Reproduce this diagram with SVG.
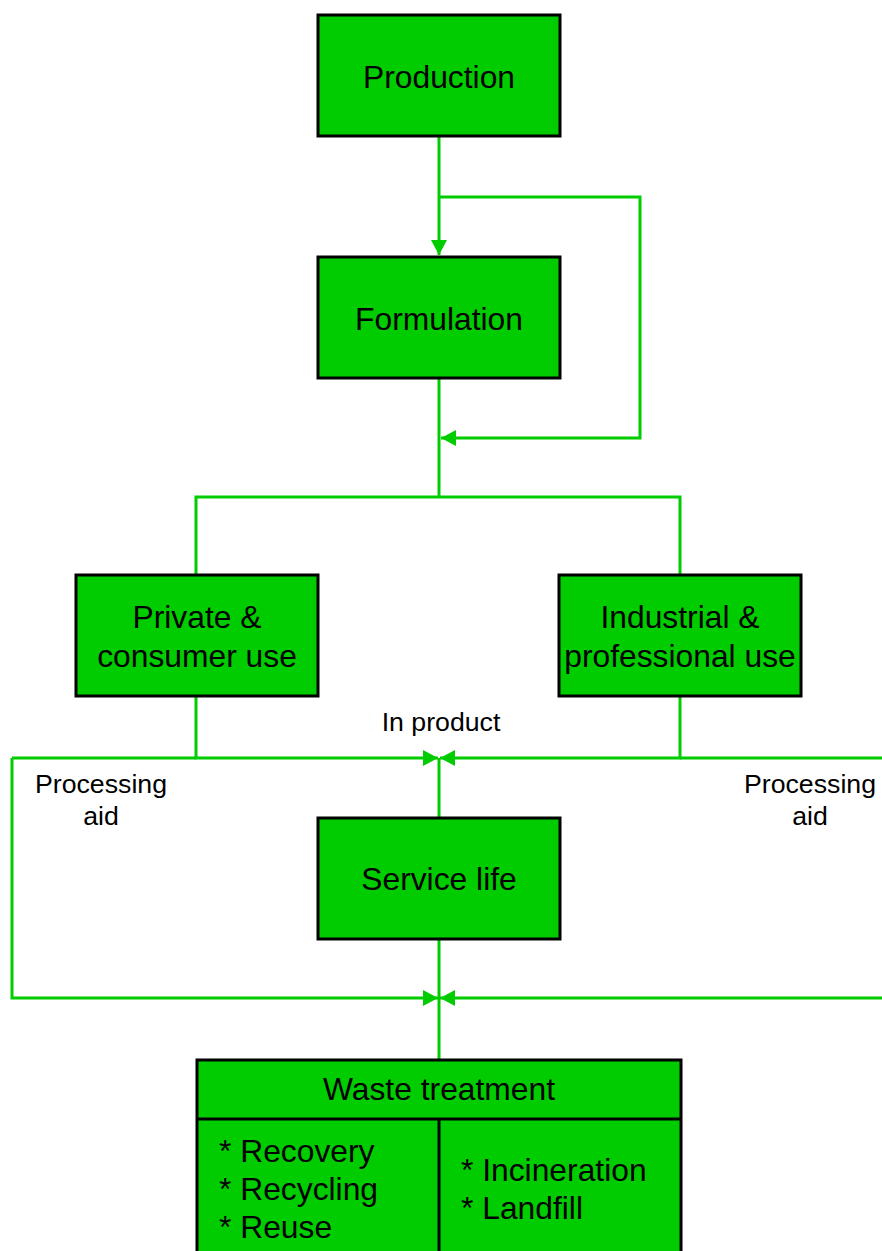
<svg xmlns="http://www.w3.org/2000/svg" width="882" height="1251" viewBox="0 0 882 1251">
<style>
.box{fill:#00CC00;stroke:#000;stroke-width:3}
.div{stroke:#000;stroke-width:3;fill:none}
.con{fill:none;stroke:#00CC00;stroke-width:3}
.t{font-family:"Liberation Sans",Arial,sans-serif;font-size:31.8px;fill:#000;text-anchor:middle}
.tl{font-family:"Liberation Sans",Arial,sans-serif;font-size:31.8px;fill:#000}
.s{font-family:"Liberation Sans",Arial,sans-serif;font-size:26.7px;fill:#000;text-anchor:middle}
</style>
<defs>
<marker id="ah" markerUnits="userSpaceOnUse" viewBox="0 0 15 16" refX="15" refY="8" markerWidth="15" markerHeight="16" orient="auto">
<path d="M0,0 L15,8 L0,16 Z" fill="#00CC00"/>
</marker>
</defs>
<rect width="882" height="1251" fill="#fff"/>
<g id="connectors">
<path class="con" d="M439,137 V255" marker-end="url(#ah)"/>
<path class="con" d="M439,197 H640 V438 H441" marker-end="url(#ah)"/>
<path class="con" d="M439,378 V497"/>
<path class="con" d="M196,575 V497 H680 V575"/>
<path class="con" d="M196,696 V758 H438" marker-end="url(#ah)"/>
<path class="con" d="M12,758 H196"/>
<path class="con" d="M12,758 V998 H438" marker-end="url(#ah)"/>
<path class="con" d="M680,696 V758 H440" marker-end="url(#ah)"/>
<path class="con" d="M882,758 H680"/>
<path class="con" d="M882,998 H440" marker-end="url(#ah)"/>
<path class="con" d="M439,758 V817"/>
<path class="con" d="M439,939 V1059"/>
</g>
<g id="production">
<rect class="box" x="318" y="15" width="242" height="121"/>
<text class="t" x="439" y="88">Production</text>
</g>
<g id="formulation">
<rect class="box" x="318" y="257" width="242" height="121"/>
<text class="t" x="439" y="330">Formulation</text>
</g>
<g id="private">
<rect class="box" x="76" y="575" width="242" height="121"/>
<text class="t" x="197" y="628">Private &amp;</text>
<text class="t" x="197" y="667">consumer use</text>
</g>
<g id="industrial">
<rect class="box" x="559" y="575" width="242" height="121"/>
<text class="t" x="680" y="628">Industrial &amp;</text>
<text class="t" x="680" y="667">professional use</text>
</g>
<g id="label-inproduct">
<text class="s" x="441" y="731">In product</text>
</g>
<g id="label-processing-left">
<text class="s" x="101" y="793">Processing</text>
<text class="s" x="101" y="825">aid</text>
</g>
<g id="label-processing-right">
<text class="s" x="810" y="793">Processing</text>
<text class="s" x="810" y="825">aid</text>
</g>
<g id="service">
<rect class="box" x="318" y="818" width="242" height="121"/>
<text class="t" x="439" y="890">Service life</text>
</g>
<g id="waste">
<rect class="box" x="197" y="1060" width="484" height="210"/>
<path class="div" d="M197,1119 H681 M439,1119 V1260"/>
<text class="t" x="439" y="1100">Waste treatment</text>
<text class="tl" x="219" y="1162">* Recovery</text>
<text class="tl" x="219" y="1200">* Recycling</text>
<text class="tl" x="219" y="1238">* Reuse</text>
<text class="tl" x="461" y="1181">* Incineration</text>
<text class="tl" x="461" y="1219">* Landfill</text>
</g>
</svg>
